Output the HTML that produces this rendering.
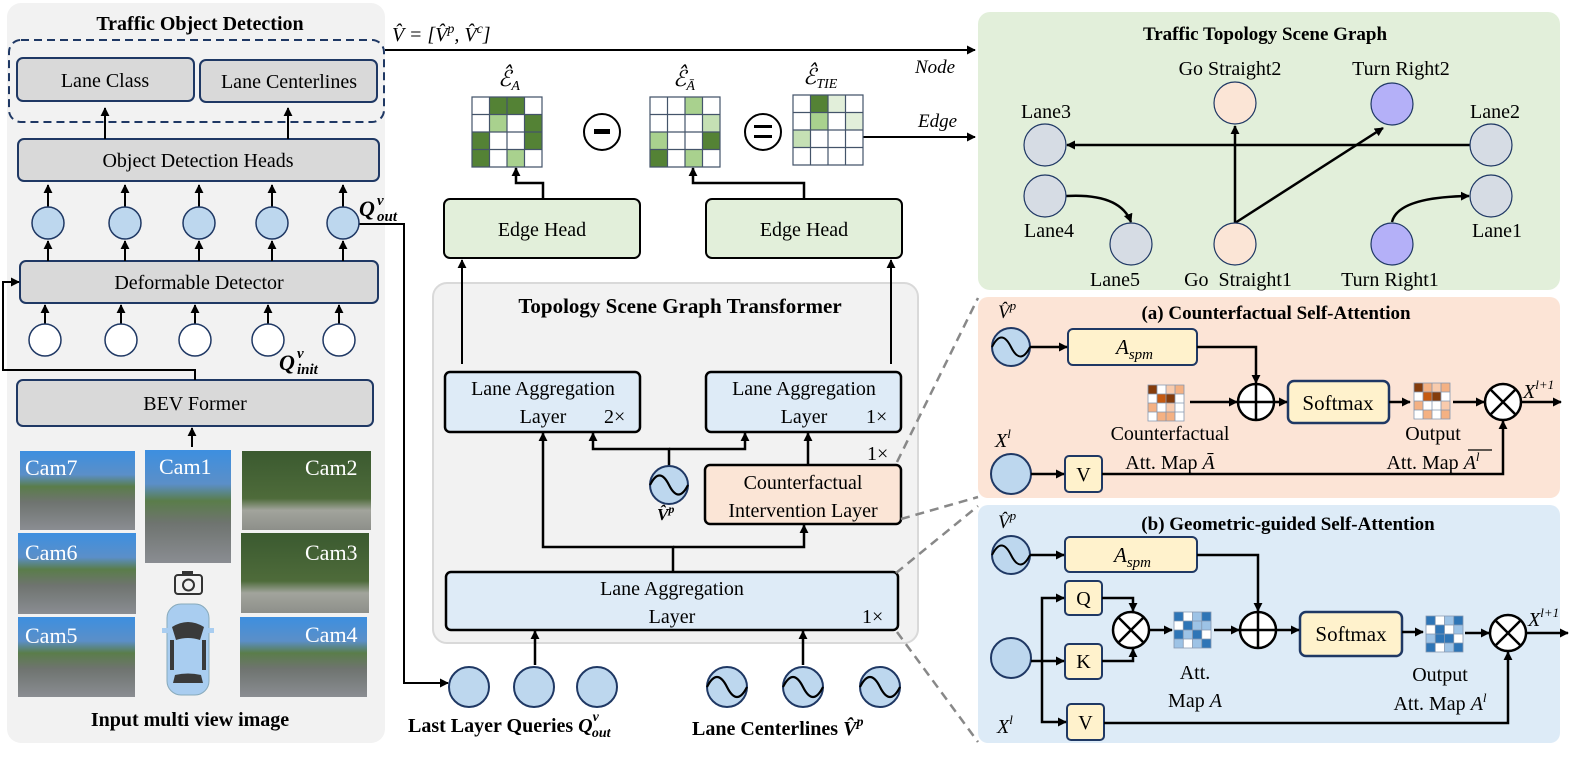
<!DOCTYPE html>
<html><head><meta charset="utf-8"><style>
html,body{margin:0;padding:0;background:#fff}
svg{display:block}
text{font-family:"Liberation Serif","DejaVu Serif",serif;fill:#000}
.b{font-weight:bold}
.i{font-style:italic}
.w{fill:#fff}
</style></head><body>
<svg width="1578" height="758" viewBox="0 0 1578 758" xmlns="http://www.w3.org/2000/svg">
<defs>
<marker id="ah" viewBox="0 0 10 10" refX="9" refY="5" markerWidth="9" markerHeight="9" markerUnits="userSpaceOnUse" orient="auto"><path d="M0,0 L10,5 L0,10 z" fill="#000"/></marker>
<linearGradient id="cam" x1="0" y1="0" x2="0" y2="1"><stop offset="0" stop-color="#3d8fe0"/><stop offset="0.3" stop-color="#5b8fc8"/><stop offset="0.45" stop-color="#5a7d4a"/><stop offset="0.65" stop-color="#6f7470"/><stop offset="1" stop-color="#8a8d92"/></linearGradient>
<linearGradient id="cam2" x1="0" y1="0" x2="0" y2="1"><stop offset="0" stop-color="#3b5a30"/><stop offset="0.6" stop-color="#4e6b3a"/><stop offset="0.75" stop-color="#a2a49c"/><stop offset="1" stop-color="#8d8f8a"/></linearGradient>
</defs>

<!-- LEFT PANEL -->
<rect x="7" y="3" width="378" height="740" rx="14" fill="#f2f2f2"/>
<text x="200" y="30" font-size="20" class="b" text-anchor="middle">Traffic Object Detection</text>
<rect x="9" y="40" width="375" height="82" rx="12" fill="none" stroke="#1f3864" stroke-width="2" stroke-dasharray="8,5"/>
<g fill="#d9d9d9" stroke="#1f3864" stroke-width="2">
<rect x="17" y="58" width="177" height="43" rx="6"/>
<rect x="200" y="60" width="177" height="42" rx="6"/>
<rect x="18" y="139" width="361" height="42" rx="6"/>
<rect x="20" y="261" width="358" height="42" rx="6"/>
<rect x="17" y="380" width="356" height="46" rx="6"/>
</g>
<g font-size="20" text-anchor="middle">
<text x="105" y="87">Lane Class</text>
<text x="289" y="88">Lane Centerlines</text>
<text x="198" y="167">Object Detection Heads</text>
<text x="199" y="289">Deformable Detector</text>
<text x="195" y="410">BEV Former</text>
</g>
<g stroke="#000" stroke-width="2" fill="none" marker-end="url(#ah)">
<line x1="105" y1="139" x2="105" y2="108"/>
<line x1="288" y1="139" x2="288" y2="108"/>
<line x1="48" y1="207" x2="48" y2="185"/><line x1="125" y1="207" x2="125" y2="185"/><line x1="199" y1="207" x2="199" y2="185"/><line x1="272" y1="207" x2="272" y2="185"/><line x1="343" y1="207" x2="343" y2="185"/>
<line x1="48" y1="261" x2="48" y2="241"/><line x1="125" y1="261" x2="125" y2="241"/><line x1="199" y1="261" x2="199" y2="241"/><line x1="272" y1="261" x2="272" y2="241"/><line x1="343" y1="261" x2="343" y2="241"/>
<line x1="45" y1="324" x2="45" y2="305"/><line x1="121" y1="324" x2="121" y2="305"/><line x1="195" y1="324" x2="195" y2="305"/><line x1="268" y1="324" x2="268" y2="305"/><line x1="339" y1="324" x2="339" y2="305"/>
<polyline points="195,380 195,370 3,370 3,282 19,282"/>
<line x1="192" y1="447" x2="192" y2="428"/>
<polyline points="359,224 404,224 404,683 448,683"/>
</g>
<g fill="#bdd7ee" stroke="#1f3864" stroke-width="1.5">
<circle cx="48" cy="223" r="16"/><circle cx="125" cy="223" r="16"/><circle cx="199" cy="223" r="16"/><circle cx="272" cy="223" r="16"/><circle cx="343" cy="223" r="16"/>
</g>
<g fill="#fff" stroke="#1f3864" stroke-width="1.5">
<circle cx="45" cy="340" r="16"/><circle cx="121" cy="340" r="16"/><circle cx="195" cy="340" r="16"/><circle cx="268" cy="340" r="16"/><circle cx="339" cy="340" r="16"/>
</g>
<text x="359" y="216" font-size="22" class="b i">Q</text><text x="377" y="205" font-size="15" class="b i">v</text><text x="377" y="221" font-size="15" class="b i">out</text>
<text x="279" y="370" font-size="22" class="b i">Q</text><text x="297" y="358" font-size="15" class="b i">v</text><text x="297" y="374" font-size="15" class="b i">init</text>

<!-- cameras -->
<rect x="20" y="451" width="115" height="79" fill="url(#cam)"/>
<rect x="145" y="450" width="86" height="113" fill="url(#cam)"/>
<rect x="242" y="451" width="129" height="79" fill="url(#cam2)"/>
<rect x="18" y="533" width="118" height="81" fill="url(#cam)"/>
<rect x="241" y="533" width="128" height="80" fill="url(#cam2)"/>
<rect x="18" y="617" width="117" height="80" fill="url(#cam)"/>
<rect x="240" y="617" width="127" height="80" fill="url(#cam)"/>
<g font-size="22">
<text x="25" y="475" class="w">Cam7</text>
<text x="159" y="474" class="w">Cam1</text>
<text x="305" y="475" class="w">Cam2</text>
<text x="25" y="560" class="w">Cam6</text>
<text x="305" y="560" class="w">Cam3</text>
<text x="25" y="643" class="w">Cam5</text>
<text x="305" y="642" class="w">Cam4</text>
</g>
<!-- camera icon -->
<rect x="175" y="575" width="27" height="19" rx="3" fill="none" stroke="#333" stroke-width="2"/>
<rect x="182" y="571" width="11" height="5" fill="#333"/>
<circle cx="188.5" cy="585" r="5.5" fill="none" stroke="#333" stroke-width="2"/>
<!-- car -->
<rect x="167" y="604" width="42" height="91" rx="14" fill="#a9cdf0" stroke="#8ab" stroke-width="1"/>
<rect x="162" y="628" width="7" height="5" fill="#a9cdf0"/><rect x="207" y="628" width="7" height="5" fill="#a9cdf0"/>
<path d="M172,627 Q188,617 204,627 L200,640 Q188,636 176,640 z" fill="#3a3a3a"/>
<path d="M175,675 Q188,672 201,675 L203,683 L173,683 z" fill="#3a3a3a"/>
<rect x="170" y="640" width="4" height="30" fill="#3a3a3a"/><rect x="202" y="640" width="4" height="30" fill="#3a3a3a"/>
<text x="190" y="726" font-size="20" class="b" text-anchor="middle">Input multi view image</text>

<!-- TOP LINES -->
<text x="392" y="41" font-size="20" class="i">V̂ = [V̂<tspan font-size="14" dy="-8">p</tspan><tspan dy="8">, V̂</tspan><tspan font-size="14" dy="-8">c</tspan><tspan dy="8">]</tspan></text>
<line x1="385" y1="50" x2="975" y2="50" stroke="#000" stroke-width="2" marker-end="url(#ah)"/>
<text x="915" y="73" font-size="19" class="i">Node</text>
<text x="918" y="127" font-size="19" class="i">Edge</text>
<line x1="862" y1="137" x2="975" y2="137" stroke="#000" stroke-width="2" marker-end="url(#ah)"/>

<!-- matrices green -->
<g stroke="none">
<rect x="472" y="97" width="70" height="70" fill="#fff"/>
<g fill="#548235"><rect x="489.5" y="97" width="35" height="17.5"/><rect x="524.5" y="114.5" width="17.5" height="17.5"/><rect x="472" y="132" width="17.5" height="35"/><rect x="524.5" y="132" width="17.5" height="17.5"/></g>
<g fill="#a9d18e"><rect x="489.5" y="114.5" width="17.5" height="17.5"/><rect x="507" y="149.5" width="17.5" height="17.5"/></g>
<rect x="650" y="97" width="70" height="70" fill="#fff"/>
<g fill="#a9d18e"><rect x="685" y="97" width="17.5" height="17.5"/><rect x="650" y="132" width="17.5" height="17.5"/><rect x="685" y="149.5" width="17.5" height="17.5"/></g>
<rect x="702.5" y="114.5" width="17.5" height="17.5" fill="#c5e0b4"/>
<g fill="#548235"><rect x="702.5" y="132" width="17.5" height="17.5"/><rect x="650" y="149.5" width="17.5" height="17.5"/></g>
<rect x="793" y="95" width="70" height="70" fill="#fff"/>
<rect x="810.5" y="95" width="17.5" height="17.5" fill="#548235"/>
<rect x="810.5" y="112.5" width="17.5" height="17.5" fill="#a9d18e"/>
<g fill="#e2efda"><rect x="828" y="95" width="17.5" height="17.5"/><rect x="845.5" y="112.5" width="17.5" height="17.5"/></g>
<rect x="793" y="130" width="17.5" height="17.5" fill="#c5e0b4"/>
</g>
<g fill="none" stroke="#44546a" stroke-width="1.2">
<path d="M472,97h70v70h-70z M489.5,97v70 M507,97v70 M524.5,97v70 M472,114.5h70 M472,132h70 M472,149.5h70"/>
<path d="M650,97h70v70h-70z M667.5,97v70 M685,97v70 M702.5,97v70 M650,114.5h70 M650,132h70 M650,149.5h70"/>
<path d="M793,95h70v70h-70z M810.5,95v70 M828,95v70 M845.5,95v70 M793,112.5h70 M793,130h70 M793,147.5h70"/>
</g>
<text x="498" y="86" font-size="22" class="i">ℰ̂<tspan font-size="14" dy="4">A</tspan></text>
<text x="673" y="86" font-size="22" class="i">ℰ̂<tspan font-size="14" dy="4">Ā</tspan></text>
<text x="803" y="84" font-size="22" class="i">ℰ̂<tspan font-size="14" dy="4">TIE</tspan></text>
<circle cx="602" cy="132" r="18" fill="#fff" stroke="#000" stroke-width="2"/>
<rect x="594" y="129" width="16" height="5" fill="#000"/>
<circle cx="763" cy="132" r="18" fill="#fff" stroke="#000" stroke-width="2"/>
<rect x="754" y="125" width="18" height="3" fill="#000"/><rect x="754" y="135" width="18" height="3" fill="#000"/>

<!-- Edge heads -->
<g fill="#e2efda" stroke="#000" stroke-width="2">
<rect x="444" y="199" width="196" height="59" rx="6"/>
<rect x="706" y="199" width="196" height="59" rx="6"/>
</g>
<text x="542" y="236" font-size="20" text-anchor="middle">Edge Head</text>
<text x="804" y="236" font-size="20" text-anchor="middle">Edge Head</text>
<g stroke="#000" stroke-width="2.5" fill="none" marker-end="url(#ah)">
<polyline points="543,199 543,183 516,183 516,168"/>
<polyline points="804,199 804,183 693,183 693,168"/>
</g>

<!-- TSGT panel -->
<rect x="433" y="283" width="485" height="360" rx="14" fill="#f2f2f2" stroke="#d9d9d9" stroke-width="2"/>
<text x="680" y="313" font-size="21" class="b" text-anchor="middle">Topology Scene Graph Transformer</text>
<g stroke="#000" stroke-width="2" fill="none" marker-end="url(#ah)">
<line x1="462" y1="364" x2="462" y2="260"/>
<line x1="891" y1="364" x2="891" y2="260"/>
</g>
<g fill="#deebf7" stroke="#000" stroke-width="2.5">
<rect x="445" y="372" width="195" height="60" rx="5"/>
<rect x="706" y="372" width="195" height="60" rx="5"/>
<rect x="446" y="572" width="452" height="58" rx="5"/>
</g>
<rect x="705" y="465" width="196" height="59" rx="5" fill="#fbe5d6" stroke="#000" stroke-width="2.5"/>
<g font-size="20">
<text x="543" y="395" text-anchor="middle">Lane Aggregation</text>
<text x="543" y="423" text-anchor="middle">Layer</text><text x="604" y="423">2×</text>
<text x="804" y="395" text-anchor="middle">Lane Aggregation</text>
<text x="804" y="423" text-anchor="middle">Layer</text><text x="866" y="423">1×</text>
<text x="867" y="460">1×</text>
<text x="803" y="489" text-anchor="middle">Counterfactual</text>
<text x="803" y="517" text-anchor="middle">Intervention Layer</text>
<text x="672" y="595" text-anchor="middle">Lane Aggregation</text>
<text x="672" y="623" text-anchor="middle">Layer</text><text x="862" y="623">1×</text>
</g>
<g stroke="#000" stroke-width="2.5" fill="none" marker-end="url(#ah)">
<polyline points="669,466 669,449 593,449 593,433"/>
<polyline points="669,449 745,449 745,433"/>
<line x1="808" y1="465" x2="808" y2="433"/>
<polyline points="673,572 673,547 543,547 543,433"/>
<polyline points="673,547 804,547 804,525"/>
<line x1="535" y1="665" x2="535" y2="631"/>
<line x1="803" y1="665" x2="803" y2="631"/>
</g>
<g fill="#bdd7ee" stroke="#1f3864" stroke-width="2">
<circle cx="669" cy="485" r="19"/>
<circle cx="469" cy="687" r="20"/><circle cx="534" cy="687" r="20"/><circle cx="597" cy="687" r="20"/>
<circle cx="727" cy="687" r="20"/><circle cx="803" cy="687" r="20"/><circle cx="880" cy="687" r="20"/>
</g>
<g stroke="#000" stroke-width="2.2" fill="none">
<path d="M650,485 Q659.5,466 669,485 T688,485"/>
<path d="M707,687 Q717,667 727,687 T747,687"/>
<path d="M783,687 Q793,667 803,687 T823,687"/>
<path d="M860,687 Q870,667 880,687 T900,687"/>
</g>
<text x="657" y="520" font-size="17" class="b i">V̂<tspan font-size="12" dy="-7">p</tspan></text>
<text x="408" y="732" font-size="20" class="b">Last Layer Queries <tspan class="i">Q</tspan><tspan class="i" font-size="14" dy="-11">v</tspan><tspan class="i" font-size="14" dx="-7" dy="16">out</tspan></text>
<text x="692" y="735" font-size="20" class="b">Lane Centerlines <tspan class="i">V̂</tspan><tspan font-size="14" dy="-9" class="i">p</tspan></text>

<!-- dashed connectors -->
<g stroke="#888" stroke-width="2.5" stroke-dasharray="9,6" fill="none">
<line x1="897" y1="462" x2="978" y2="298"/>
<line x1="901" y1="519" x2="978" y2="497"/>
<line x1="896" y1="573" x2="978" y2="506"/>
<line x1="897" y1="632" x2="978" y2="742"/>
</g>

<!-- Green scene graph -->
<rect x="978" y="12" width="582" height="278" rx="12" fill="#e2efda"/>
<text x="1265" y="40" font-size="19" class="b" text-anchor="middle">Traffic Topology Scene Graph</text>
<g stroke="#000" stroke-width="2.5" fill="none" marker-end="url(#ah)">
<line x1="1470" y1="145" x2="1067" y2="145"/>
<line x1="1235" y1="223" x2="1235" y2="126"/>
<line x1="1235" y1="223" x2="1383" y2="128"/>
<path d="M1066,196 Q1120,193 1131,222"/>
<path d="M1392,222 Q1398,197 1469,196"/>
</g>
<g stroke="#1f3864" stroke-width="1.2">
<ellipse cx="1235" cy="103" rx="21" ry="21" fill="#fbe5d6"/>
<ellipse cx="1392" cy="104" rx="21" ry="21" fill="#b4b0f8"/>
<ellipse cx="1045" cy="145" rx="21" ry="21" fill="#d6dce4"/>
<ellipse cx="1491" cy="145" rx="21" ry="21" fill="#d6dce4"/>
<ellipse cx="1045" cy="196" rx="21" ry="21" fill="#d6dce4"/>
<ellipse cx="1491" cy="196" rx="21" ry="21" fill="#d6dce4"/>
<ellipse cx="1131" cy="244" rx="21" ry="21" fill="#d6dce4"/>
<ellipse cx="1235" cy="244" rx="21" ry="21" fill="#fbe5d6"/>
<ellipse cx="1392" cy="244" rx="21" ry="21" fill="#b4b0f8"/>
</g>
<g font-size="20" text-anchor="middle">
<text x="1230" y="75">Go Straight2</text>
<text x="1401" y="75">Turn Right2</text>
<text x="1046" y="118">Lane3</text>
<text x="1495" y="118">Lane2</text>
<text x="1049" y="237">Lane4</text>
<text x="1497" y="237">Lane1</text>
<text x="1115" y="286">Lane5</text>
<text x="1238" y="286" xml:space="preserve">Go  Straight1</text>
<text x="1390" y="286">Turn Right1</text>
</g>

<!-- (a) Counterfactual panel -->
<rect x="978" y="297" width="582" height="201" rx="10" fill="#fce4d6"/>
<text x="1276" y="319" font-size="19" class="b" text-anchor="middle">(a) Counterfactual Self-Attention</text>
<text x="998" y="318" font-size="19" class="i">V̂<tspan font-size="13" dy="-8">p</tspan></text>
<circle cx="1011" cy="347" r="19" fill="#bdd7ee" stroke="#1f3864" stroke-width="2"/>
<path d="M992,347 Q1001.5,328 1011,347 T1030,347" stroke="#000" stroke-width="2" fill="none"/>
<rect x="1068" y="329" width="129" height="36" rx="5" fill="#fff2cc" stroke="#1f3864" stroke-width="2"/>
<text x="1116" y="354" font-size="21" class="i">A<tspan font-size="15" dy="5">spm</tspan></text>
<circle cx="1011" cy="474" r="20" fill="#bdd7ee" stroke="#1f3864" stroke-width="2"/>
<text x="995" y="447" font-size="20" class="i">X<tspan font-size="13" dy="-9">l</tspan></text>
<rect x="1065" y="456" width="37" height="36" rx="4" fill="#fff2cc" stroke="#1f3864" stroke-width="2"/>
<text x="1083.5" y="481" font-size="20" text-anchor="middle">V</text>
<g>
<rect x="1148" y="385" width="36" height="36" fill="#fff"/>
<rect x="1148" y="385" width="9" height="9" fill="#843c0c"/><rect x="1166" y="385" width="9" height="9" fill="#f8cbad"/><rect x="1175" y="385" width="9" height="9" fill="#f4b183"/>
<rect x="1157" y="394" width="9" height="9" fill="#c55a11"/><rect x="1166" y="394" width="9" height="9" fill="#843c0c"/>
<rect x="1148" y="403" width="9" height="9" fill="#f4b183"/><rect x="1166" y="403" width="9" height="9" fill="#f8cbad"/>
<rect x="1157" y="412" width="9" height="9" fill="#f4b183"/><rect x="1166" y="412" width="9" height="9" fill="#f4b183"/>
<path d="M1148,385h36v36h-36z M1157,385v36 M1166,385v36 M1175,385v36 M1148,394h36 M1148,403h36 M1148,412h36" fill="none" stroke="#8497b0" stroke-width="0.8"/>
</g>
<g>
<rect x="1414" y="383" width="36" height="36" fill="#fff"/>
<rect x="1414" y="383" width="9" height="9" fill="#843c0c"/><rect x="1423" y="383" width="9" height="9" fill="#f4b183"/><rect x="1432" y="383" width="9" height="9" fill="#f8cbad"/><rect x="1441" y="383" width="9" height="9" fill="#f4b183"/>
<rect x="1423" y="392" width="9" height="9" fill="#c55a11"/><rect x="1432" y="392" width="9" height="9" fill="#843c0c"/>
<rect x="1414" y="401" width="9" height="9" fill="#f4b183"/><rect x="1441" y="401" width="9" height="9" fill="#f8cbad"/>
<rect x="1423" y="410" width="9" height="9" fill="#f4b183"/><rect x="1441" y="410" width="9" height="9" fill="#f4b183"/>
<path d="M1414,383h36v36h-36z M1423,383v36 M1432,383v36 M1441,383v36 M1414,392h36 M1414,401h36 M1414,410h36" fill="none" stroke="#8497b0" stroke-width="0.8"/>
</g>
<rect x="1288" y="381" width="101" height="42" rx="6" fill="#fff2cc" stroke="#1f3864" stroke-width="2.5"/>
<text x="1338" y="410" font-size="21" text-anchor="middle">Softmax</text>
<g stroke="#000" stroke-width="2.5" fill="none" marker-end="url(#ah)">
<line x1="1030" y1="347" x2="1067" y2="347"/>
<polyline points="1197,347 1256,347 1256,383"/>
<line x1="1190" y1="402" x2="1237" y2="402"/>
<line x1="1274" y1="402" x2="1287" y2="402"/>
<line x1="1389" y1="402" x2="1410" y2="402"/>
<line x1="1453" y1="402" x2="1484" y2="402"/>
<line x1="1521" y1="402" x2="1561" y2="402"/>
<line x1="1031" y1="474" x2="1064" y2="474"/>
<polyline points="1102,474 1503,474 1503,421"/>
</g>
<circle cx="1256" cy="402" r="18" fill="#fff" stroke="#000" stroke-width="2.5"/>
<path d="M1238,402h36 M1256,384v36" stroke="#000" stroke-width="2.5"/>
<circle cx="1503" cy="402" r="18" fill="#fff" stroke="#000" stroke-width="2.5"/>
<path d="M1490,389 L1516,415 M1516,389 L1490,415" stroke="#000" stroke-width="2.5"/>
<text x="1523" y="398" font-size="20" class="i">X<tspan font-size="13" dy="-9">l+1</tspan></text>
<g font-size="20" text-anchor="middle">
<text x="1170" y="440">Counterfactual</text>
<text x="1170" y="469">Att. Map <tspan class="i">Ā</tspan></text>
<text x="1433" y="440">Output</text>
<text x="1433" y="469">Att. Map <tspan class="i">A<tspan font-size="13" dy="-8">l</tspan></tspan></text>
</g>
<line x1="1468" y1="450" x2="1492" y2="450" stroke="#000" stroke-width="1.2"/>

<!-- (b) Geometric panel -->
<rect x="978" y="505" width="582" height="238" rx="10" fill="#ddebf7"/>
<text x="1288" y="530" font-size="19" class="b" text-anchor="middle">(b) Geometric-guided Self-Attention</text>
<text x="998" y="528" font-size="19" class="i">V̂<tspan font-size="13" dy="-8">p</tspan></text>
<circle cx="1011" cy="555" r="19" fill="#bdd7ee" stroke="#1f3864" stroke-width="2"/>
<path d="M992,555 Q1001.5,536 1011,555 T1030,555" stroke="#000" stroke-width="2" fill="none"/>
<rect x="1065" y="537" width="132" height="35" rx="5" fill="#fff2cc" stroke="#1f3864" stroke-width="2"/>
<text x="1114" y="562" font-size="21" class="i">A<tspan font-size="15" dy="5">spm</tspan></text>
<circle cx="1011" cy="658" r="20" fill="#bdd7ee" stroke="#1f3864" stroke-width="2"/>
<text x="997" y="733" font-size="20" class="i">X<tspan font-size="13" dy="-9">l</tspan></text>
<g fill="#fff2cc" stroke="#1f3864" stroke-width="2">
<rect x="1065" y="581" width="37" height="34" rx="4"/>
<rect x="1065" y="644" width="37" height="35" rx="4"/>
<rect x="1067" y="704" width="37" height="36" rx="4"/>
</g>
<g font-size="20" text-anchor="middle">
<text x="1083.5" y="605">Q</text>
<text x="1083.5" y="668">K</text>
<text x="1085.5" y="729">V</text>
</g>
<g>
<rect x="1174" y="612" width="37" height="36" fill="#fff"/>
<g fill="#2e75b6"><rect x="1174" y="612" width="9.25" height="9"/><rect x="1201.75" y="612" width="9.25" height="9"/><rect x="1183.25" y="621" width="9.25" height="9"/><rect x="1174" y="630" width="9.25" height="9"/><rect x="1192.5" y="630" width="9.25" height="9"/><rect x="1201.75" y="639" width="9.25" height="9"/></g>
<g fill="#9dc3e6"><rect x="1192.5" y="612" width="9.25" height="9"/><rect x="1192.5" y="621" width="9.25" height="9"/><rect x="1201.75" y="621" width="9.25" height="9"/><rect x="1183.25" y="630" width="9.25" height="9"/><rect x="1174" y="639" width="9.25" height="9"/><rect x="1192.5" y="639" width="9.25" height="9"/></g>
<path d="M1174,612h37v36h-37z M1183.25,612v36 M1192.5,612v36 M1201.75,612v36 M1174,621h37 M1174,630h37 M1174,639h37" fill="none" stroke="#8497b0" stroke-width="0.8"/>
</g>
<g>
<rect x="1426" y="616" width="37" height="36" fill="#fff"/>
<g fill="#2e75b6"><rect x="1426" y="616" width="9.25" height="9"/><rect x="1453.75" y="616" width="9.25" height="9"/><rect x="1435.25" y="625" width="9.25" height="9"/><rect x="1435.25" y="634" width="9.25" height="9"/><rect x="1444.5" y="634" width="9.25" height="9"/><rect x="1426" y="643" width="9.25" height="9"/><rect x="1453.75" y="643" width="9.25" height="9"/></g>
<g fill="#9dc3e6"><rect x="1444.5" y="616" width="9.25" height="9"/><rect x="1453.75" y="625" width="9.25" height="9"/><rect x="1426" y="634" width="9.25" height="9"/><rect x="1444.5" y="643" width="9.25" height="9"/></g>
<path d="M1426,616h37v36h-37z M1435.25,616v36 M1444.5,616v36 M1453.75,616v36 M1426,625h37 M1426,634h37 M1426,643h37" fill="none" stroke="#8497b0" stroke-width="0.8"/>
</g>
<rect x="1300" y="612" width="102" height="44" rx="6" fill="#fff2cc" stroke="#1f3864" stroke-width="2.5"/>
<text x="1351" y="641" font-size="21" text-anchor="middle">Softmax</text>
<g stroke="#000" stroke-width="2.5" fill="none" marker-end="url(#ah)">
<line x1="1030" y1="555" x2="1064" y2="555"/>
<polyline points="1197,555 1258,555 1258,611"/>
<polyline points="1031,661 1042,661 1042,598 1064,598"/>
<line x1="1042" y1="661" x2="1064" y2="661"/>
<polyline points="1042,661 1042,722 1066,722"/>
<polyline points="1102,598 1133,598 1133,611"/>
<polyline points="1102,661 1133,661 1133,649"/>
<line x1="1149" y1="630" x2="1172" y2="630"/>
<line x1="1214" y1="630" x2="1239" y2="630"/>
<line x1="1276" y1="630" x2="1299" y2="630"/>
<line x1="1402" y1="632" x2="1423" y2="632"/>
<line x1="1465" y1="633" x2="1489" y2="633"/>
<line x1="1526" y1="633" x2="1568" y2="633"/>
<polyline points="1104,723 1508,723 1508,652"/>
</g>
<circle cx="1131" cy="630" r="18" fill="#fff" stroke="#000" stroke-width="2.5"/>
<path d="M1118,617 L1144,643 M1144,617 L1118,643" stroke="#000" stroke-width="2.5"/>
<circle cx="1258" cy="630" r="18" fill="#fff" stroke="#000" stroke-width="2.5"/>
<path d="M1240,630h36 M1258,612v36" stroke="#000" stroke-width="2.5"/>
<circle cx="1508" cy="633" r="18" fill="#fff" stroke="#000" stroke-width="2.5"/>
<path d="M1495,620 L1521,646 M1521,620 L1495,646" stroke="#000" stroke-width="2.5"/>
<text x="1528" y="626" font-size="20" class="i">X<tspan font-size="13" dy="-9">l+1</tspan></text>
<g font-size="20" text-anchor="middle">
<text x="1195" y="679">Att.</text>
<text x="1195" y="707">Map <tspan class="i">A</tspan></text>
<text x="1440" y="681">Output</text>
<text x="1440" y="710">Att. Map <tspan class="i">A<tspan font-size="13" dy="-8">l</tspan></tspan></text>
</g>
</svg>
</body></html>
